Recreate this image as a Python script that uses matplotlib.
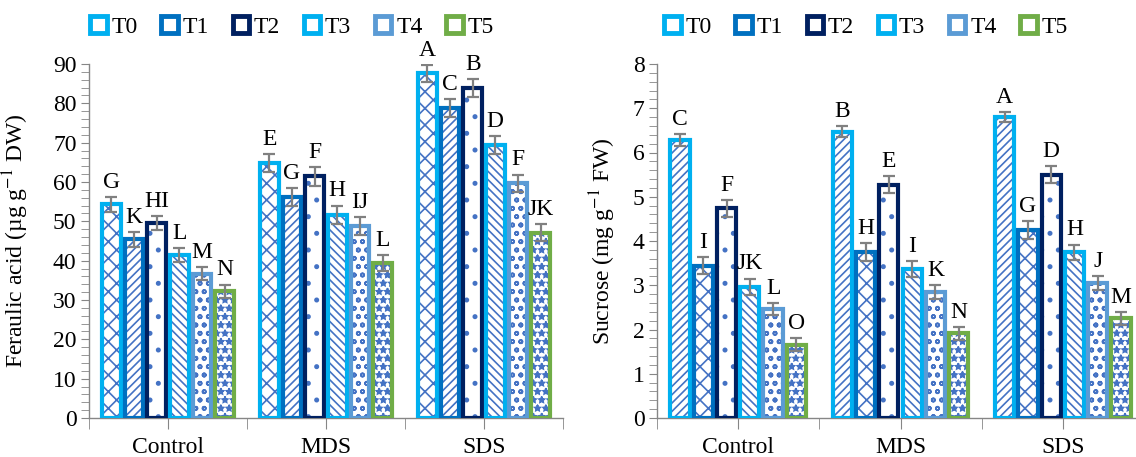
import matplotlib.pyplot as plt
from matplotlib.patches import Patch
from matplotlib.ticker import MultipleLocator, FixedLocator

plt.rcParams['font.family'] = ['Liberation Serif', 'DejaVu Serif']
plt.rcParams['mathtext.fontset'] = 'stix'
plt.rcParams['hatch.linewidth'] = 1.2

# Datos
groups = ['Control', 'MDS', 'SDS']
treatments = ['T0', 'T1', 'T2', 'T3', 'T4', 'T5']

# Acido ferulico (ug g-1 DW), una lista por grupo (T0..T5)
ferulic_control = [54.3, 45.4, 49.5, 41.4, 36.7, 32.2]
ferulic_mds = [64.8, 56.1, 61.4, 51.7, 48.8, 39.4]
ferulic_sds = [87.6, 78.8, 83.8, 69.3, 59.7, 47.1]
ferulic_err_control = [1.9, 1.8, 1.8, 1.8, 1.7, 1.7]
ferulic_err_mds = [2.3, 2.3, 2.3, 2.3, 2.2, 2.1]
ferulic_err_sds = [2.2, 2.3, 2.3, 2.3, 2.2, 2.2]
ferulic_letters_control = ['G', 'K', 'HI', 'L', 'M', 'N']
ferulic_letters_mds = ['E', 'G', 'F', 'H', 'IJ', 'L']
ferulic_letters_sds = ['A', 'C', 'B', 'D', 'F', 'JK']

# Sacarosa (mg g-1 FW)
sucrose_control = [6.28, 3.44, 4.74, 2.97, 2.46, 1.66]
sucrose_mds = [6.47, 3.75, 5.27, 3.37, 2.85, 1.91]
sucrose_sds = [6.80, 4.25, 5.50, 3.75, 3.05, 2.25]
sucrose_err_control = [0.14, 0.19, 0.19, 0.18, 0.14, 0.15]
sucrose_err_mds = [0.13, 0.20, 0.19, 0.18, 0.15, 0.14]
sucrose_err_sds = [0.12, 0.20, 0.19, 0.17, 0.15, 0.14]
sucrose_letters_control = ['C', 'I', 'F', 'JK', 'L', 'O']
sucrose_letters_mds = ['B', 'H', 'E', 'I', 'K', 'N']
sucrose_letters_sds = ['A', 'G', 'D', 'H', 'J', 'M']

# Estilos
colors = ['#00B0F0', '#0070C0', '#002060', '#00B0F0', '#5B9BD5', '#70AD47']
hatch_color = '#4472C4'
axis_color = '#868686'
left_hatches = ['xx', '////', '.', '\\\\\\\\', 'oo', '**']
right_hatches = ['////', 'xx', '.', '\\\\\\\\', 'oo', '**']
fs = 17

W, H = 1136, 457
fig = plt.figure(figsize=(W / 100, H / 100), dpi=100)

ax1 = fig.add_axes([89 / W, 1 - 418 / H, (563 - 89) / W, (418 - 64) / H])
ax2 = fig.add_axes([657 / W, 1 - 418 / H, (1144 - 657) / W, (418 - 64) / H])


def draw_panel(ax, series, errors, letters, hatches, ymax, major, minor, ylabel):
    spacing = 0.1433
    width = 0.118
    for g, (vals, errs, labs) in enumerate(zip(series, errors, letters)):
        for i, (v, e, lab) in enumerate(zip(vals, errs, labs)):
            x = g + (i - 2.5) * spacing
            # relleno con trama
            ax.bar(x, v, width, facecolor='white', edgecolor=hatch_color,
                   linewidth=0, hatch=hatches[i], zorder=2)
            # borde grueso de color
            ax.bar(x, v, width, fill=False, edgecolor=colors[i],
                   linewidth=3.0, zorder=3)
            ax.errorbar(x, v, yerr=e, fmt='none', ecolor='#808080',
                        elinewidth=1.6, capsize=4, capthick=1.6, zorder=4)
            ax.annotate(lab, (x, v + e), xytext=(0, 3), textcoords='offset points',
                        ha='center', va='bottom', fontsize=fs, zorder=5)

    ax.set_xlim(-0.5, 2.5)
    ax.set_ylim(0, ymax)
    ax.set_xticks(range(len(groups)))
    ax.set_xticklabels(groups)
    ax.xaxis.set_minor_locator(FixedLocator([-0.5, 0.5, 1.5, 2.5]))
    ax.yaxis.set_major_locator(MultipleLocator(major))
    ax.yaxis.set_minor_locator(MultipleLocator(minor))
    ax.tick_params(axis='y', which='both', direction='out', length=6,
                   color=axis_color, labelsize=fs, pad=3)
    ax.tick_params(axis='x', which='both', direction='out', length=8,
                   color=axis_color, labelsize=fs, pad=6)
    for side in ['top', 'right']:
        ax.spines[side].set_visible(False)
    for side in ['left', 'bottom']:
        ax.spines[side].set_color(axis_color)
        ax.spines[side].set_linewidth(1.0)
    ax.set_ylabel(ylabel, fontsize=fs)


draw_panel(ax1,
           [ferulic_control, ferulic_mds, ferulic_sds],
           [ferulic_err_control, ferulic_err_mds, ferulic_err_sds],
           [ferulic_letters_control, ferulic_letters_mds, ferulic_letters_sds],
           left_hatches, 90, 10, 2, 'Feraulic acid (µg g$^{-1}$ DW)')
ax1.yaxis.set_label_coords(-0.122, 0.5)

draw_panel(ax2,
           [sucrose_control, sucrose_mds, sucrose_sds],
           [sucrose_err_control, sucrose_err_mds, sucrose_err_sds],
           [sucrose_letters_control, sucrose_letters_mds, sucrose_letters_sds],
           right_hatches, 8, 1, 0.2, 'Sucrose (mg g$^{-1}$ FW)')
ax2.yaxis.set_label_coords(-0.08, 0.5)

# Leyendas
for hatches, cx in [(left_hatches, 292), (right_hatches, 866)]:
    handles = [Patch(facecolor='white', edgecolor=c, linewidth=3.5, label=t)
               for c, t in zip(colors, treatments)]
    fig.legend(handles=handles, loc='center', bbox_to_anchor=(cx / W, 1 - 27 / H),
               ncol=6, frameon=False, fontsize=fs, handlelength=0.7,
               handleheight=0.7, handletextpad=0.2, columnspacing=1.0)

fig.savefig('out.png', dpi=100)
